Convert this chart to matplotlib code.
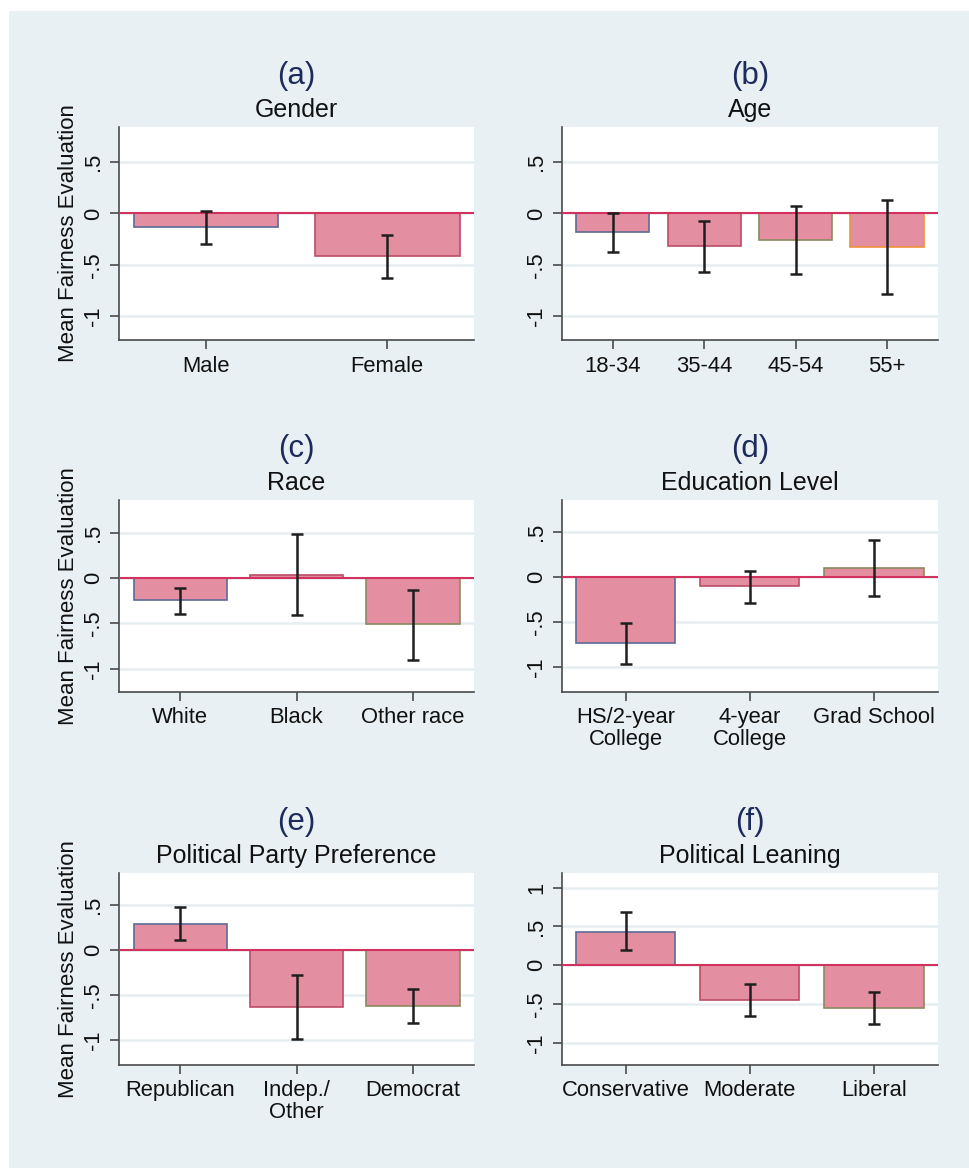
import matplotlib
matplotlib.use("Agg")
import matplotlib.pyplot as plt
from matplotlib.patches import Rectangle
import numpy as np

plt.rcParams['font.family'] = ['Liberation Sans', 'DejaVu Sans']

# ---------------- data ----------------
gender_cats = ["Male", "Female"]
gender_mean = [-0.13, -0.41]
gender_lo = [-0.30, -0.625]
gender_hi = [0.022, -0.21]

age_cats = ["18-34", "35-44", "45-54", "55+"]
age_mean = [-0.178, -0.314, -0.256, -0.327]
age_lo = [-0.372, -0.567, -0.592, -0.786]
age_hi = [0.0, -0.078, 0.074, 0.126]

race_cats = ["White", "Black", "Other race"]
race_mean = [-0.246, 0.037, -0.508]
race_lo = [-0.40, -0.405, -0.906]
race_hi = [-0.11, 0.486, -0.136]

edu_cats = ["HS/2-year\nCollege", "4-year\nCollege", "Grad School"]
edu_mean = [-0.731, -0.096, 0.10]
edu_lo = [-0.967, -0.285, -0.204]
edu_hi = [-0.513, 0.07, 0.413]

party_cats = ["Republican", "Indep./\nOther", "Democrat"]
party_mean = [0.289, -0.63, -0.615]
party_lo = [0.111, -0.985, -0.807]
party_hi = [0.486, -0.274, -0.433]

lean_cats = ["Conservative", "Moderate", "Liberal"]
lean_mean = [0.431, -0.443, -0.551]
lean_lo = [0.198, -0.65, -0.762]
lean_hi = [0.685, -0.241, -0.344]

letters = ["(a)", "(b)", "(c)", "(d)", "(e)", "(f)"]
titles = ["Gender", "Age", "Race", "Education Level",
          "Political Party Preference", "Political Leaning"]
ytick_vals_std = [-1, -0.5, 0, 0.5]
ytick_lbls_std = ["-1", "-.5", "0", ".5"]
ytick_vals_f = [-1, -0.5, 0, 0.5, 1]
ytick_lbls_f = ["-1", "-.5", "0", ".5", "1"]
ylabel = "Mean Fairness Evaluation"

# ---------------- layout ----------------
W, H = 969, 1168
fig = plt.figure(figsize=(W / 100, H / 100), dpi=100, facecolor="white")
fig.patches.append(Rectangle((9 / W, 0), 1, 1 - 11 / H, transform=fig.transFigure,
                             facecolor="#E9F0F3", edgecolor="none", zorder=-10))

cols = [(119, 474), (561.7, 938)]
rows = [(127, 340), (500, 691.5), (873, 1064.5)]
ylims = [(-1.23, 0.84), (-1.23, 0.84), (-1.25, 0.86), (-1.27, 0.86),
         (-1.27, 0.86), (-1.28, 1.19)]

panels = [
    (gender_cats, gender_mean, gender_lo, gender_hi),
    (age_cats, age_mean, age_lo, age_hi),
    (race_cats, race_mean, race_lo, race_hi),
    (edu_cats, edu_mean, edu_lo, edu_hi),
    (party_cats, party_mean, party_lo, party_hi),
    (lean_cats, lean_mean, lean_lo, lean_hi),
]

fill = "#E48FA1"
edges = ["#5E6A96", "#BD4C66", "#8C8A5E", "#EE923C"]
zero_col = "#D4325E"
spine_col = "#4A4A4A"
grid_col = "#E6EEF1"
err_col = "#1E1E1E"
bar_w = 0.8
gap_px = 14.5

for i, (cats, mean, lo, hi) in enumerate(panels):
    r, c = divmod(i, 2)
    x0, x1 = cols[c]
    y0, y1 = rows[r]
    ax = fig.add_axes([x0 / W, 1 - y1 / H, (x1 - x0) / W, (y1 - y0) / H])
    ax.set_facecolor("white")
    n = len(cats)
    x = np.arange(n)
    s = ((x1 - x0) - 2 * gap_px) / (n - 1 + bar_w)
    g = gap_px / s
    ax.set_xlim(-bar_w / 2 - g, n - 1 + bar_w / 2 + g)
    ax.set_ylim(*ylims[i])

    mean = np.array(mean)
    lo = np.array(lo)
    hi = np.array(hi)
    ax.bar(x, mean, width=bar_w, color=fill, edgecolor=edges[:n],
           linewidth=1.2, zorder=2)
    ax.axhline(0, color=zero_col, lw=1.5, zorder=3)
    ax.errorbar(x, (lo + hi) / 2, yerr=[(lo + hi) / 2 - lo, hi - (lo + hi) / 2],
                fmt="none", ecolor=err_col, elinewidth=1.8, capsize=4,
                capthick=1.8, zorder=4)

    if i == 5:
        ax.set_yticks(ytick_vals_f)
        ax.set_yticklabels(ytick_lbls_f)
    else:
        ax.set_yticks(ytick_vals_std)
        ax.set_yticklabels(ytick_lbls_std)
    for lbl in ax.get_yticklabels():
        lbl.set_rotation(90)
        lbl.set_va("center")
    ax.set_xticks(x)
    ax.set_xticklabels(cats, linespacing=1.05)
    ax.yaxis.grid(True, color=grid_col, lw=1.8, zorder=0)
    ax.set_axisbelow(True)

    for sp in ["top", "right"]:
        ax.spines[sp].set_visible(False)
    for sp in ["left", "bottom"]:
        ax.spines[sp].set_color(spine_col)
        ax.spines[sp].set_linewidth(1.2)
    ax.tick_params(axis="both", colors=spine_col, length=6.5, width=1.2,
                   labelsize=15.8, labelcolor="#111111")
    ax.tick_params(axis="y", pad=4)
    ax.tick_params(axis="x", pad=5)

    ax.annotate(titles[i], xy=(0.5, 1), xycoords="axes fraction",
                xytext=(0, 12.5), textcoords="offset points",
                ha="center", va="center", fontsize=18, color="#111111")
    ax.annotate(letters[i], xy=(0.5, 1), xycoords="axes fraction",
                xytext=(0, 36.5), textcoords="offset points",
                ha="center", va="center", fontsize=22.5, color="#1C2B5C")

    if c == 0:
        fig.text(68 / W, 1 - (y0 + y1) / 2 / H, ylabel, rotation=90,
                 ha="center", va="center", fontsize=16, color="#111111")

fig.savefig("out.png", dpi=100, facecolor=fig.get_facecolor())
